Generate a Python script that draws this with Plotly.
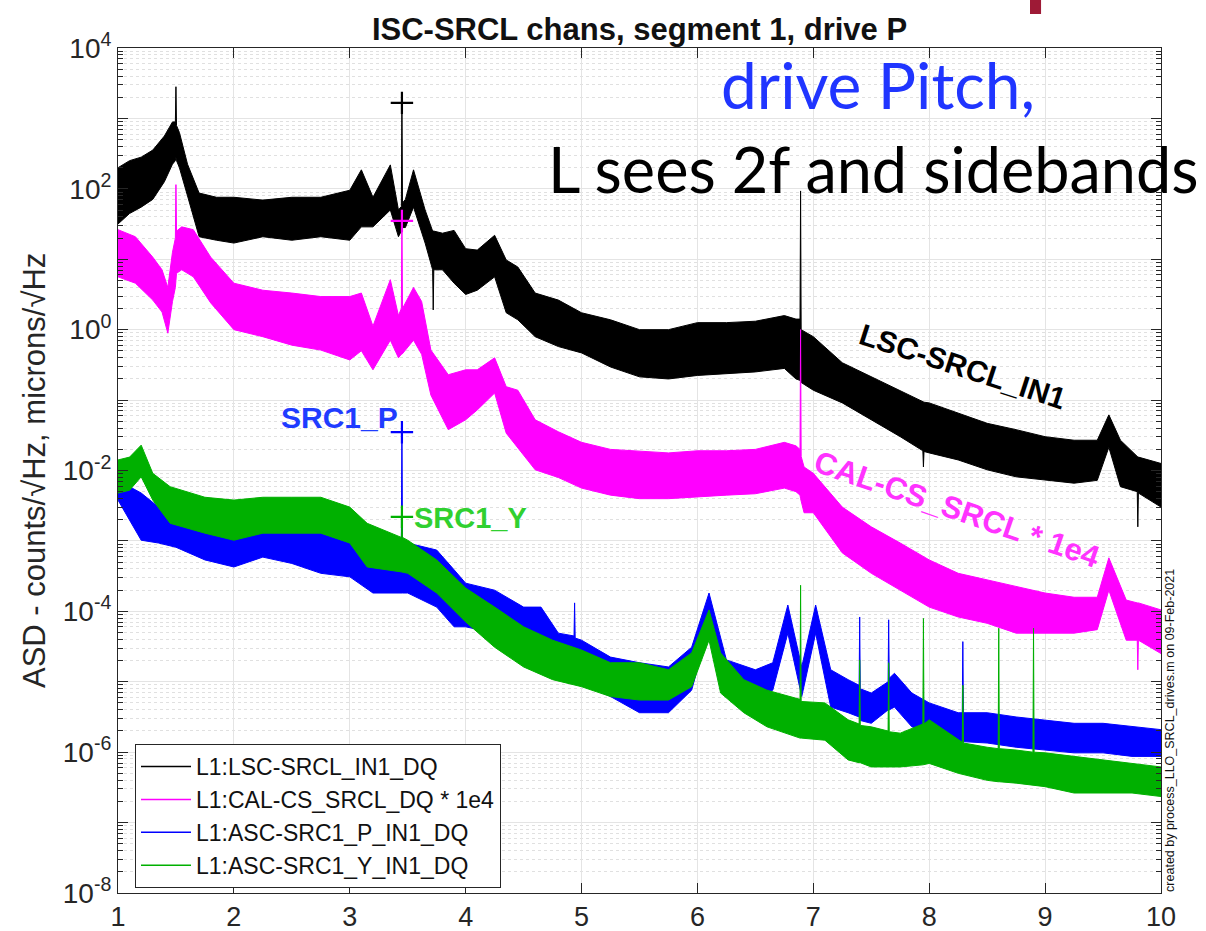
import numpy as np
import plotly.graph_objects as go

# ---------------------------------------------------------------------------
# Amplitude spectral densities, drive P, segment 1.
# Each channel is stored as the upper and lower edge (log10 of ASD) of its
# noise band versus frequency [Hz]; narrow lines appear as single points.
# ---------------------------------------------------------------------------
LSC_F = [1.00, 1.10, 1.20, 1.30, 1.40, 1.47, 1.495, 1.50, 1.505, 1.53, 1.60, 1.70, 1.85, 2.00,
         2.25, 2.50, 2.75, 3.00, 3.10, 3.20, 3.35, 3.42, 3.445, 3.45, 3.455, 3.48, 3.55, 3.65,
         3.715, 3.72, 3.725, 3.80, 3.90, 4.00, 4.10, 4.25, 4.35, 4.45, 4.60, 4.80, 5.00, 5.25,
         5.50, 5.75, 6.00, 6.25, 6.50, 6.75, 6.85, 6.885, 6.89, 6.895, 6.95, 7.00, 7.25, 7.50,
         7.75, 7.945, 7.95, 7.955, 8.00, 8.25, 8.50, 8.75, 9.00, 9.25, 9.45, 9.55, 9.65, 9.795,
         9.80, 9.805, 10.00]
LSC_LOG_HI = [2.30, 2.40, 2.45, 2.55, 2.75, 2.95, 2.95, 3.45, 2.90, 2.80, 2.35, 1.94, 1.88, 1.88,
              1.84, 1.88, 1.88, 1.98, 2.27, 1.88, 2.34, 1.70, 1.75, 3.22, 1.80, 1.85, 2.27, 1.70,
              1.40, 1.40, 1.40, 1.37, 1.41, 1.15, 1.13, 1.34, 0.99, 0.89, 0.52, 0.42, 0.24, 0.14,
              0.00, 0.00, 0.10, 0.10, 0.12, 0.20, 0.15, 0.15, 1.97, 0.00, -0.05, -0.10, -0.47, -0.67,
              -0.86, -1.02, -1.02, -1.03, -1.04, -1.18, -1.33, -1.42, -1.52, -1.57, -1.57, -1.21,
              -1.57, -1.80, -1.80, -1.81, -1.90]
LSC_LOG_LO = [1.50, 1.65, 1.74, 1.85, 2.10, 2.35, 2.40, 2.45, 2.40, 2.30, 1.90, 1.32, 1.27, 1.23,
              1.32, 1.27, 1.32, 1.27, 1.46, 1.46, 1.70, 1.32, 1.40, 1.45, 1.45, 1.45, 1.74, 1.23,
              0.85, 0.28, 0.85, 0.85, 0.66, 0.50, 0.56, 0.75, 0.24, 0.14, -0.10, -0.24, -0.33, -0.53,
              -0.67, -0.70, -0.65, -0.62, -0.60, -0.55, -0.70, -0.72, -0.70, -0.75, -0.81, -0.86,
              -1.04, -1.28, -1.52, -1.72, -1.95, -1.73, -1.75, -1.85, -1.99, -2.09, -2.14, -2.18,
              -2.14, -1.67, -2.23, -2.30, -2.80, -2.32, -2.52]

CAL_F = [1.00, 1.15, 1.30, 1.38, 1.43, 1.47, 1.495, 1.50, 1.505, 1.55, 1.65, 1.80, 2.00, 2.25,
         2.50, 2.75, 3.00, 3.10, 3.20, 3.35, 3.42, 3.445, 3.45, 3.455, 3.55, 3.62, 3.70, 3.85,
         4.00, 4.10, 4.25, 4.35, 4.45, 4.60, 4.80, 5.00, 5.25, 5.50, 5.75, 6.00, 6.25, 6.50,
         6.75, 6.85, 6.885, 6.89, 6.895, 6.92, 7.00, 7.25, 7.50, 7.75, 8.00, 8.25, 8.50, 8.75,
         9.00, 9.25, 9.45, 9.55, 9.70, 9.795, 9.80, 9.805, 10.00]
CAL_LOG_HI = [1.42, 1.32, 1.03, 0.85, 0.60, 1.10, 1.30, 2.06, 1.40, 1.46, 1.42, 1.03, 0.66, 0.56,
              0.52, 0.47, 0.47, 0.52, 0.05, 0.71, 0.20, 0.30, 1.55, 0.30, 0.60, 0.40, -0.29, -0.64,
              -0.57, -0.57, -0.40, -0.81, -0.86, -1.28, -1.45, -1.60, -1.70, -1.72, -1.75, -1.72,
              -1.72, -1.70, -1.60, -1.65, -1.70, 0.00, -1.80, -1.95, -2.04, -2.52, -2.80, -3.03,
              -3.27, -3.46, -3.55, -3.65, -3.74, -3.80, -3.80, -3.24, -3.84, -3.88, -3.88, -3.88,
              -3.98]
CAL_LOG_LO = [0.75, 0.66, 0.42, 0.25, -0.05, 0.40, 0.60, 0.70, 0.80, 0.85, 0.75, 0.38, 0.00, -0.10,
              -0.22, -0.29, -0.43, -0.30, -0.57, -0.15, -0.40, -0.35, -0.35, -0.35, -0.15, -0.35,
              -0.93, -1.42, -1.28, -1.14, -0.90, -1.47, -1.67, -1.99, -2.10, -2.25, -2.35, -2.40,
              -2.40, -2.38, -2.35, -2.33, -2.25, -2.30, -2.35, -2.40, -2.45, -2.60, -2.60, -3.17,
              -3.46, -3.70, -3.94, -4.08, -4.17, -4.31, -4.31, -4.31, -4.26, -3.70, -4.41, -4.41,
              -4.83, -4.41, -4.60]

SRC1P_F = [1.00, 1.10, 1.20, 1.35, 1.50, 1.75, 2.00, 2.25, 2.50, 2.75, 3.00, 3.20, 3.445, 3.45,
           3.455, 3.50, 3.75, 3.90, 4.00, 4.25, 4.50, 4.65, 4.80, 4.935, 4.94, 4.945, 5.00, 5.25,
           5.50, 5.75, 5.95, 6.10, 6.25, 6.50, 6.65, 6.78, 6.90, 7.02, 7.15, 7.30, 7.395, 7.40,
           7.405, 7.50, 7.645, 7.65, 7.655, 7.70, 7.85, 8.00, 8.25, 8.285, 8.29, 8.295, 8.50,
           8.75, 9.00, 9.25, 9.50, 9.75, 10.00]
SRC1P_LOG_HI = [-1.85, -2.23, -2.32, -2.52, -2.38, -2.75, -2.60, -2.66, -2.75, -2.89, -3.03, -2.99,
                -3.00, -1.45, -3.00, -3.03, -3.13, -3.41, -3.60, -3.70, -3.94, -3.94, -4.31, -4.35,
                -3.88, -4.38, -4.41, -4.65, -4.73, -4.79, -4.51, -3.74, -4.69, -4.83, -4.73, -3.91,
                -4.79, -3.91, -4.83, -4.97, -5.05, -4.08, -5.10, -5.16, -5.00, -4.12, -4.95, -4.88,
                -5.16, -5.30, -5.44, -5.44, -4.43, -5.44, -5.44, -5.50, -5.54, -5.59, -5.59, -5.64,
                -5.68]
SRC1P_LOG_LO = [-2.42, -2.70, -2.99, -3.03, -3.09, -3.27, -3.37, -3.23, -3.32, -3.46, -3.51, -3.74,
                -3.74, -3.74, -3.74, -3.74, -3.94, -4.22, -4.22, -4.31, -4.55, -4.41, -4.88, -4.95,
                -4.95, -4.98, -5.02, -5.21, -5.44, -5.44, -5.12, -4.22, -5.12, -5.21, -5.12, -4.31,
                -5.21, -4.31, -5.36, -5.44, -5.50, -5.50, -5.55, -5.59, -5.40, -5.40, -5.40, -5.36,
                -5.64, -5.73, -5.83, -5.85, -5.85, -5.85, -5.87, -5.93, -5.97, -6.01, -6.01, -6.06,
                -6.06]

SRC1Y_F = [1.00, 1.10, 1.20, 1.30, 1.45, 1.75, 2.00, 2.25, 2.50, 2.75, 3.00, 3.15, 3.445, 3.45,
           3.455, 3.50, 3.75, 4.00, 4.25, 4.50, 4.75, 5.00, 5.25, 5.50, 5.75, 5.95, 6.10, 6.20,
           6.40, 6.60, 6.885, 6.89, 6.895, 7.10, 7.30, 7.395, 7.40, 7.405, 7.50, 7.645, 7.65,
           7.655, 7.75, 7.945, 7.95, 7.955, 8.00, 8.25, 8.285, 8.29, 8.295, 8.50, 8.595, 8.60,
           8.605, 8.75, 8.895, 8.90, 8.905, 9.00, 9.25, 9.50, 9.75, 10.00]
SRC1Y_LOG_HI = [-1.85, -1.81, -1.64, -2.04, -2.23, -2.38, -2.42, -2.38, -2.38, -2.38, -2.52, -2.75,
                -2.95, -2.66, -2.95, -2.99, -3.27, -3.67, -3.94, -4.22, -4.41, -4.55, -4.73, -4.73,
                -4.83, -4.59, -3.98, -4.59, -4.97, -5.12, -5.25, -3.63, -5.28, -5.30, -5.54, -5.60,
                -4.69, -5.62, -5.64, -5.70, -4.73, -5.71, -5.73, -5.60, -4.10, -5.60, -5.54, -5.83,
                -5.86, -5.05, -5.87, -5.93, -5.95, -4.24, -5.95, -5.97, -6.00, -4.24, -6.00, -6.01,
                -6.06, -6.11, -6.16, -6.21]
SRC1Y_LOG_LO = [-2.32, -2.28, -2.09, -2.42, -2.75, -2.89, -2.99, -2.89, -2.89, -2.89, -3.03, -3.37,
                -3.44, -3.44, -3.44, -3.46, -3.74, -4.15, -4.51, -4.79, -4.97, -5.07, -5.21, -5.26,
                -5.26, -5.07, -4.41, -5.16, -5.44, -5.64, -5.80, -5.80, -5.80, -5.83, -6.11, -6.15,
                -6.15, -6.15, -6.21, -6.21, -6.21, -6.21, -6.21, -6.18, -6.18, -6.18, -6.16, -6.30,
                -6.32, -6.32, -6.32, -6.40, -6.42, -6.42, -6.42, -6.44, -6.47, -6.47, -6.47, -6.49,
                -6.58, -6.58, -6.58, -6.63]

# Drive line markers at 3.45 Hz
DRIVE_F = 3.45
DRIVE_ASD = {"LSC": 1.66e3, "CAL": 35.0, "SRC1P": 0.035, "SRC1Y": 0.0022}

CHANNELS = [
    ("L1:LSC-SRCL_IN1_DQ", LSC_F, LSC_LOG_HI, LSC_LOG_LO, "#000000", "LSC"),
    ("L1:CAL-CS_SRCL_DQ * 1e4", CAL_F, CAL_LOG_HI, CAL_LOG_LO, "#ff00ff", "CAL"),
    ("L1:ASC-SRC1_P_IN1_DQ", SRC1P_F, SRC1P_LOG_HI, SRC1P_LOG_LO, "#0000ff", "SRC1P"),
    ("L1:ASC-SRC1_Y_IN1_DQ", SRC1Y_F, SRC1Y_LOG_HI, SRC1Y_LOG_LO, "#00b000", "SRC1Y"),
]

DECADES = list(range(-8, 5))
Y_TICK_TEXT = [f"10<sup>{d}</sup>" if d % 2 == 0 else "" for d in DECADES]
Y_MINOR = [m * 10.0 ** d for d in range(-8, 4) for m in range(2, 10)]

FONT = "Liberation Sans, Arial, Helvetica, sans-serif"
AX_COLOR = "#262626"

fig = go.Figure()

for name, f, hi, lo, color, key in CHANNELS:
    f = np.asarray(f)
    upper = 10.0 ** np.asarray(hi)
    lower = 10.0 ** np.asarray(lo)
    fig.add_trace(go.Scatter(
        x=np.concatenate([f, f[::-1]]),
        y=np.concatenate([upper, lower[::-1]]),
        mode="lines", fill="toself", fillcolor=color,
        line=dict(color=color, width=1), showlegend=False, hoverinfo="skip",
    ))

for name, f, hi, lo, color, key in CHANNELS:
    fig.add_trace(go.Scatter(
        x=[None], y=[None], mode="lines", name=name, legendgroup=name,
        line=dict(color=color, width=1.5),
    ))

for name, f, hi, lo, color, key in CHANNELS:
    fig.add_trace(go.Scatter(
        x=[DRIVE_F], y=[DRIVE_ASD[key]], mode="markers", showlegend=False,
        marker=dict(symbol="cross-thin", size=16, line=dict(color=color, width=2.2)),
        hoverinfo="skip",
    ))

fig.update_layout(
    width=1206, height=931,
    margin=dict(l=118, r=45, t=48, b=38),
    paper_bgcolor="white", plot_bgcolor="white",
    font=dict(family=FONT, color=AX_COLOR),
    title=dict(
        text="<b>ISC-SRCL chans, segment 1, drive P</b>",
        x=0.5, xref="paper", xanchor="center",
        y=1 - 29 / 931, yref="container", yanchor="middle",
        font=dict(family=FONT, size=31, color="#111111"),
    ),
    showlegend=True,
    legend=dict(
        x=0.0163, y=0.1763, xanchor="left", yanchor="top",
        bgcolor="white", bordercolor=AX_COLOR, borderwidth=1,
        font=dict(family=FONT, size=23, color="#111111"),
        itemwidth=50, tracegroupgap=0, traceorder="grouped",
    ),
)

fig.update_xaxes(
    range=[1, 10], tickmode="linear", tick0=1, dtick=1, automargin=False,
    ticks="inside", ticklen=10, tickcolor=AX_COLOR,
    showline=True, linecolor=AX_COLOR, linewidth=1, mirror="ticks",
    showgrid=True, gridcolor="#e4e4e4", gridwidth=1, zeroline=False,
    tickfont=dict(family=FONT, size=27, color=AX_COLOR),
)
fig.update_yaxes(
    type="log", range=[-8, 4], automargin=False,
    tickmode="array", tickvals=[10.0 ** d for d in DECADES], ticktext=Y_TICK_TEXT,
    ticks="inside", ticklen=10, tickcolor=AX_COLOR,
    showline=True, linecolor=AX_COLOR, linewidth=1, mirror="ticks",
    showgrid=True, gridcolor="#e4e4e4", gridwidth=1, zeroline=False,
    tickfont=dict(family=FONT, size=28, color=AX_COLOR),
    minor=dict(tickmode="array", tickvals=Y_MINOR, ticks="inside", ticklen=5,
               tickcolor=AX_COLOR, showgrid=True, gridcolor="#e0e0e0",
               griddash="dot", gridwidth=1),
)

annotations = [
    dict(text="ASD - counts/√Hz, microns/√Hz", x=-0.0805, y=0.4994, textangle=-90,
         font=dict(family=FONT, size=31, color=AX_COLOR)),
    dict(text="drive Pitch,", x=0.7287, y=0.957,
         font=dict(family="Lato, Open Sans, sans-serif", size=64, color="#2035ff")),
    dict(text="L sees 2f and sidebands", x=0.7239, y=0.857,
         font=dict(family="Lato, Open Sans, sans-serif", size=63, color="#000000")),
    dict(text="<b>LSC-SRCL_IN1</b>", x=0.810, y=0.6225, textangle=18,
         font=dict(family=FONT, size=30, color="#000000")),
    dict(text="<b>CAL-CS_SRCL * 1e4</b>", x=0.8044, y=0.4533, textangle=19,
         font=dict(family=FONT, size=31, color="#ff33ff")),
    dict(text="<b>SRC1_P</b>", x=0.2128, y=0.5633,
         font=dict(family=FONT, size=30, color="#1f3cff")),
    dict(text="<b>SRC1_Y</b>", x=0.3375, y=0.4438,
         font=dict(family=FONT, size=29, color="#30d030")),
    dict(text="created by process_LLO_SRCL_drives.m on 09-Feb-2021", x=1.0086, y=0.193,
         textangle=-90, font=dict(family=FONT, size=12.5, color="#111111")),
]
for a in annotations:
    fig.add_annotation(xref="paper", yref="paper", xanchor="center", yanchor="middle",
                       showarrow=False, **a)

fig.add_shape(type="rect", xref="paper", yref="paper", x0=0.8744, x1=0.885,
              y0=1.0402, y1=1.07, fillcolor="#9e1a36", line=dict(width=0), layer="above")

fig.write_html("out.html")
